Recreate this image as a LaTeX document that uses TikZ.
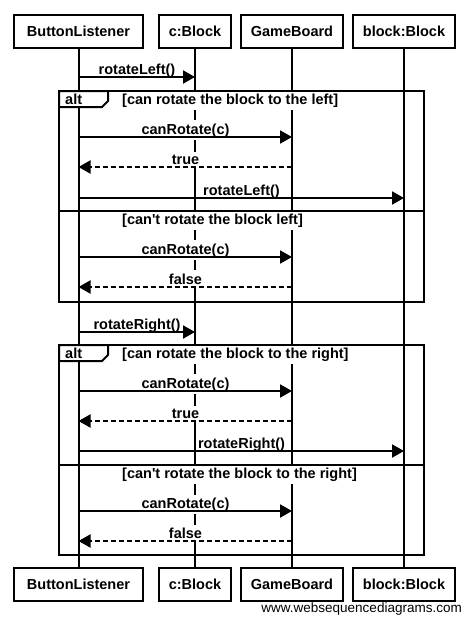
\documentclass[tikz,border=0pt]{standalone}
\usepackage{fontspec}
\setmainfont{Liberation Sans}[Ligatures=TeXOff]
\usetikzlibrary{arrows.meta}
\begin{document}
\begin{tikzpicture}[x=1pt,y=-1pt,
  lw/.style={line width=2pt},
  bfont/.style={font=\bfseries\fontsize{14.5}{17}\selectfont},
  actor/.style={draw, lw, fill=white, minimum height=33pt, inner sep=0pt, bfont},
  lbl/.style={fill=white, inner xsep=1pt, inner ysep=3pt, anchor=base, bfont},
  guard/.style={fill=white, inner xsep=0pt, inner ysep=3pt, anchor=base west, bfont},
  msg/.style={lw, -{Triangle[length=12pt,width=13pt]}},
  ret/.style={msg, dash pattern=on 5pt off 3pt},
  frame/.style={lw},
  tab/.style={lw, fill=white},
]
\useasboundingbox (0,0) rectangle (470,625);

% participants
\node[actor, minimum width=129pt] (blT) at (78.5,31.5) {ButtonListener};
\node[actor, minimum width=72pt]  (cbT) at (195,31.5) {c:Block};
\node[actor, minimum width=102pt] (gbT) at (292,31.5) {GameBoard};
\node[actor, minimum width=102pt] (bbT) at (404,31.5) {block:Block};
\node[actor, minimum width=129pt] (blB) at (78.5,584) {ButtonListener};
\node[actor, minimum width=72pt]  (cbB) at (195,584) {c:Block};
\node[actor, minimum width=102pt] (gbB) at (292,584) {GameBoard};
\node[actor, minimum width=102pt] (bbB) at (404,584) {block:Block};

% lifelines
\draw[lw] (blT.south) -- (blB.north);
\draw[lw] (cbT.south) -- (cbB.north);
\draw[lw] (gbT.south) -- (gbB.north);
\draw[lw] (bbT.south) -- (bbB.north);

% message end points
\foreach \n/\y in {1/77,2/137,3/167,4/198,5/257,6/287,7/332,8/391,9/421,10/451,11/511,12/541}{
  \coordinate (bl\n) at (blT.south |- 0,\y);
  \coordinate (cb\n) at (cbT.south |- 0,\y);
  \coordinate (gb\n) at (gbT.south |- 0,\y);
  \coordinate (bb\n) at (bbT.south |- 0,\y);
}

% labels
\node[lbl] (l1) at (137,74) {rotateLeft()};
\node[lbl] (l2) at (185.5,134) {canRotate(c)};
\node[lbl] (l3) at (185.5,164) {true};
\node[lbl] (l4) at (241.5,195) {rotateLeft()};
\node[lbl] (l5) at (185.5,254) {canRotate(c)};
\node[lbl] (l6) at (185.5,284) {false};
\node[lbl] (l7) at (137,329) {rotateRight()};
\node[lbl] (l8) at (185.5,388) {canRotate(c)};
\node[lbl] (l9) at (185.5,418) {true};
\node[lbl] (l10) at (241.5,448) {rotateRight()};
\node[lbl] (l11) at (185.5,508) {canRotate(c)};
\node[lbl] (l12) at (185.5,538) {false};

% frame 1
\node[guard] (g1) at (122,104) {[can rotate the block to the left]};
\node[guard] (g2) at (122,224) {[can't rotate the block left]};
\draw[frame] (59,91) rectangle (424,302);
\draw[frame] (59,211) -- (424,211);
\draw[tab] (59,91) -- (108,91) -- (108,101) -- (102,107) -- (59,107) -- cycle;
\node[bfont, anchor=base west, inner sep=0pt] (alt1) at (65,104.5) {alt};

% frame 2
\node[guard] (g3) at (122,358) {[can rotate the block to the right]};
\node[guard] (g4) at (122,478) {[can't rotate the block to the right]};
\draw[frame] (59,345) rectangle (424,555);
\draw[frame] (59,465) -- (424,465);
\draw[tab] (59,345) -- (108,345) -- (108,355) -- (102,361) -- (59,361) -- cycle;
\node[bfont, anchor=base west, inner sep=0pt] (alt2) at (65,358.5) {alt};

% messages
\draw[msg] (bl1) -- (cb1);
\draw[msg] (bl2) -- (gb2);
\draw[ret] (gb3) -- (bl3);
\draw[msg] (bl4) -- (bb4);
\draw[msg] (bl5) -- (gb5);
\draw[ret] (gb6) -- (bl6);
\draw[msg] (bl7) -- (cb7);
\draw[msg] (bl8) -- (gb8);
\draw[ret] (gb9) -- (bl9);
\draw[msg] (bl10) -- (bb10);
\draw[msg] (bl11) -- (gb11);
\draw[ret] (gb12) -- (bl12);

% watermark
\node[anchor=base east, inner sep=0pt, font=\fontsize{13.5}{16}\selectfont] (wm) at (462,612) {www.websequencediagrams.com};
\end{tikzpicture}
\end{document}
